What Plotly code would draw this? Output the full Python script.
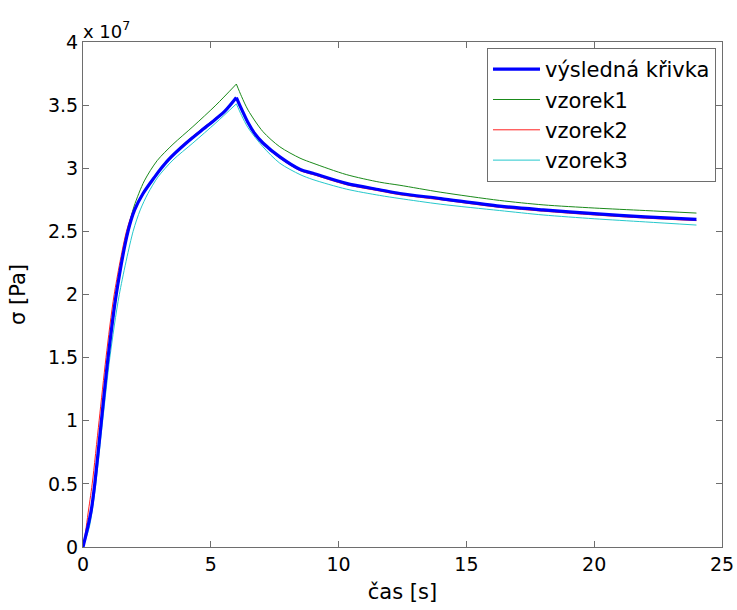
import numpy as np
import plotly.graph_objects as go

# time [s] and stress [x 1e7 Pa]
t_blue = [0, 0.2, 0.33, 0.46, 0.72, 0.98, 1.30, 1.76, 2.02, 2.35, 2.8, 3.06, 3.33, 4.04, 4.89, 5.54, 6.0,
          6.2, 6.46, 6.7, 7.04, 7.7, 8.5, 9.0, 10.3, 11.6, 12.4, 14, 16.3, 18, 20, 22, 24]
s_blue = [0, 0.17, 0.3, 0.5, 1.0, 1.5, 2.0, 2.5, 2.67, 2.80, 2.93, 3.0, 3.065, 3.20, 3.34, 3.45, 3.56,
          3.47, 3.36, 3.28, 3.20, 3.09, 2.99, 2.96, 2.88, 2.83, 2.80, 2.76, 2.70, 2.67, 2.64, 2.615, 2.595]

t_v1 = [0, 0.22, 0.35, 0.48, 0.74, 1.0, 1.32, 1.74, 2.0, 2.4, 2.9, 3.52, 4.3, 5.2, 6.0,
        6.2, 6.46, 7.04, 7.7, 8.49, 9.0, 10.3, 11.6, 12.4, 14, 16.3, 18, 20, 22, 24]
s_v1 = [0, 0.17, 0.3, 0.5, 1.0, 1.5, 2.0, 2.5, 2.7, 2.9, 3.06, 3.19, 3.33, 3.50, 3.667,
        3.57, 3.46, 3.29, 3.17, 3.08, 3.04, 2.95, 2.89, 2.865, 2.81, 2.745, 2.71, 2.685, 2.665, 2.645]

t_v2 = [0, 0.1, 0.2, 0.36, 0.63, 0.9, 1.22, 1.7, 1.98, 2.33, 2.8, 3.06, 3.33, 4.04, 4.89, 5.54, 6.0,
        6.2, 6.46, 6.7, 7.04, 7.7, 8.5, 9.0, 10.3, 11.6, 12.4, 14, 16.3, 18, 20, 22, 24]
s_v2 = [0, 0.12, 0.27, 0.5, 1.0, 1.5, 2.0, 2.5, 2.67, 2.80, 2.93, 3.0, 3.07, 3.21, 3.35, 3.455, 3.55,
        3.46, 3.35, 3.27, 3.19, 3.08, 2.98, 2.95, 2.87, 2.82, 2.79, 2.75, 2.69, 2.66, 2.63, 2.605, 2.585]

t_v3 = [0, 0.24, 0.37, 0.5, 0.77, 1.05, 1.42, 1.96, 2.24, 2.54, 2.93, 3.52, 4.3, 5.2, 6.0,
        6.2, 6.46, 7.04, 7.7, 8.49, 9.0, 10.3, 11.6, 12.4, 14, 16.3, 18, 20, 22, 24]
s_v3 = [0, 0.15, 0.3, 0.5, 1.0, 1.5, 2.0, 2.5, 2.67, 2.80, 2.93, 3.065, 3.20, 3.36, 3.51,
        3.42, 3.32, 3.17, 3.04, 2.95, 2.91, 2.835, 2.785, 2.76, 2.715, 2.665, 2.63, 2.60, 2.575, 2.55]

scale = 1e7
y_ticks = [0, 0.5, 1, 1.5, 2, 2.5, 3, 3.5, 4]
y_tick_text = ["0", "0.5", "1", "1.5", "2", "2.5", "3", "3.5", "4"]
x_ticks = [0, 5, 10, 15, 20, 25]

FONT = "DejaVu Sans, Arial, sans-serif"

fig = go.Figure()
series = [
    ("výsledná křivka", t_blue, s_blue, "#0000ff", 3.2),
    ("vzorek1", t_v1, s_v1, "#1a8a1a", 1),
    ("vzorek2", t_v2, s_v2, "#ff2020", 1),
    ("vzorek3", t_v3, s_v3, "#25c8cc", 1),
]
order = [1, 3, 2, 0]
for i in order:
    name, t, s, c, w = series[i]
    t = np.array(t)
    y = np.array(s) * scale
    k = int(np.argmax(y))  # peak: sharp corner between rise and decay
    for part, (tt, yy) in enumerate([(t[:k + 1], y[:k + 1]), (t[k:], y[k:])]):
        fig.add_trace(go.Scatter(x=tt, y=yy, mode="lines", name=name, legendgroup=name,
                                 showlegend=(part == 0), legendrank=i + 1,
                                 line=dict(color=c, width=w, shape="spline", smoothing=0.8)))

axis_common = dict(showgrid=False, zeroline=False, showline=True, linecolor="#6e6e6e",
                   linewidth=1, mirror="ticks", ticks="inside", ticklen=6, automargin=False,
                   tickcolor="#6e6e6e", tickfont=dict(family=FONT, size=19, color="#000"))

fig.update_xaxes(range=[0, 25], tickvals=x_ticks, ticktext=[str(v) for v in x_ticks],
                 title=dict(text="čas [s]", font=dict(family=FONT, size=21, color="#000"), standoff=10),
                 **axis_common)
fig.update_yaxes(range=[0, 4 * scale], tickvals=[v * scale for v in y_ticks], ticktext=y_tick_text,
                 title=dict(text="σ [Pa]", font=dict(family=FONT, size=21, color="#000"), standoff=16),
                 **axis_common)

fig.add_annotation(x=0, y=1, xref="paper", yref="paper", xanchor="left", yanchor="bottom",
                   text="x 10<sup>7</sup>", showarrow=False, yshift=-2, xshift=-2,
                   font=dict(family=FONT, size=18, color="#000"))

fig.update_layout(
    width=737, height=610,
    margin=dict(l=83, r=15, t=42, b=63),
    paper_bgcolor="white", plot_bgcolor="white",
    showlegend=True,
    legend=dict(x=0.9906, y=0.988, xanchor="right", yanchor="top",
                bgcolor="white", bordercolor="#6e6e6e", borderwidth=1,
                font=dict(family=FONT, size=21, color="#000"), tracegroupgap=0,
                itemwidth=47),
)

fig.write_html("out.html")
